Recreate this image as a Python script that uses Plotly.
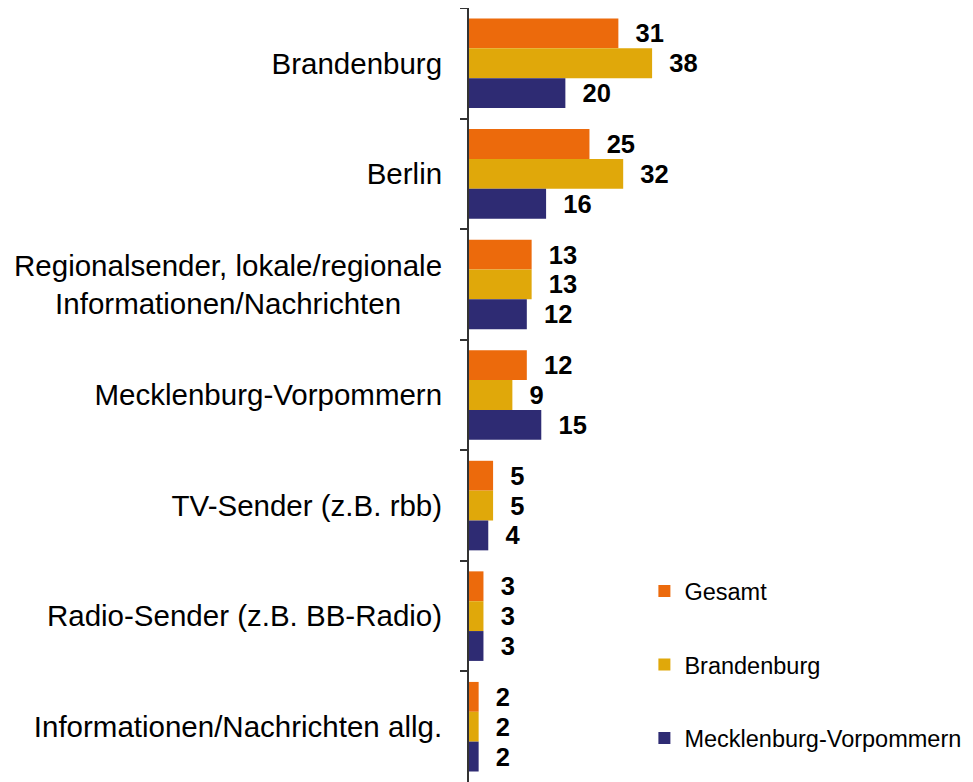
import plotly.graph_objects as go

categories = [
    "Brandenburg",
    "Berlin",
    "Regionalsender, lokale/regionale<br>Informationen/Nachrichten\u00a0\u00a0\u00a0\u00a0\u00a0",
    "Mecklenburg-Vorpommern",
    "TV-Sender (z.B. rbb)",
    "Radio-Sender (z.B. BB-Radio)",
    "Informationen/Nachrichten allg.",
]
series_names = ["Gesamt", "Brandenburg", "Mecklenburg-Vorpommern"]
gesamt = [31, 25, 13, 12, 5, 3, 2]
brandenburg = [38, 32, 13, 9, 5, 3, 2]
mv = [20, 16, 12, 15, 4, 3, 2]
colors = ["#EC6A0C", "#E0A80A", "#2E2B73"]

FONT = "Arial, 'Liberation Sans', sans-serif"

fig = go.Figure()
for i, (name, vals) in enumerate(zip(series_names, [gesamt, brandenburg, mv])):
    fig.add_trace(go.Bar(
        y=categories, x=vals, name=name, orientation="h",
        marker=dict(color=colors[i], line=dict(width=0)),
        text=vals, texttemplate="\u00a0\u00a0%{x}", textposition="outside",
        textfont=dict(family=FONT, size=25.5, color="black", weight="bold"),
        cliponaxis=False, legendgroup=name,
    ))

fig.update_layout(
    width=965, height=774,
    margin=dict(l=461, r=0, t=0, b=0),
    paper_bgcolor="white", plot_bgcolor="white",
    barmode="group", bargap=0.19, bargroupgap=0,
    font=dict(family=FONT, color="black"),
    showlegend=True,
    legend=dict(x=0.348, xanchor="left", y=0.275, yanchor="top",
                traceorder="grouped", tracegroupgap=40,
                font=dict(family=FONT, size=23.5, color="black"),
                bgcolor="rgba(0,0,0,0)"),
)
fig.update_xaxes(range=[0, 104.6], visible=False, showgrid=False, zeroline=False)
fig.update_yaxes(autorange="reversed", showgrid=False, zeroline=False,
                 showline=True, linecolor="#333333", linewidth=2,
                 ticks="outside", tickson="boundaries", ticklen=7,
                 tickwidth=2, tickcolor="#333333",
                 ticklabelstandoff=19,
                 tickfont=dict(family=FONT, size=29.5, color="black"),
                 automargin=False)

fig.write_html("out.html")
